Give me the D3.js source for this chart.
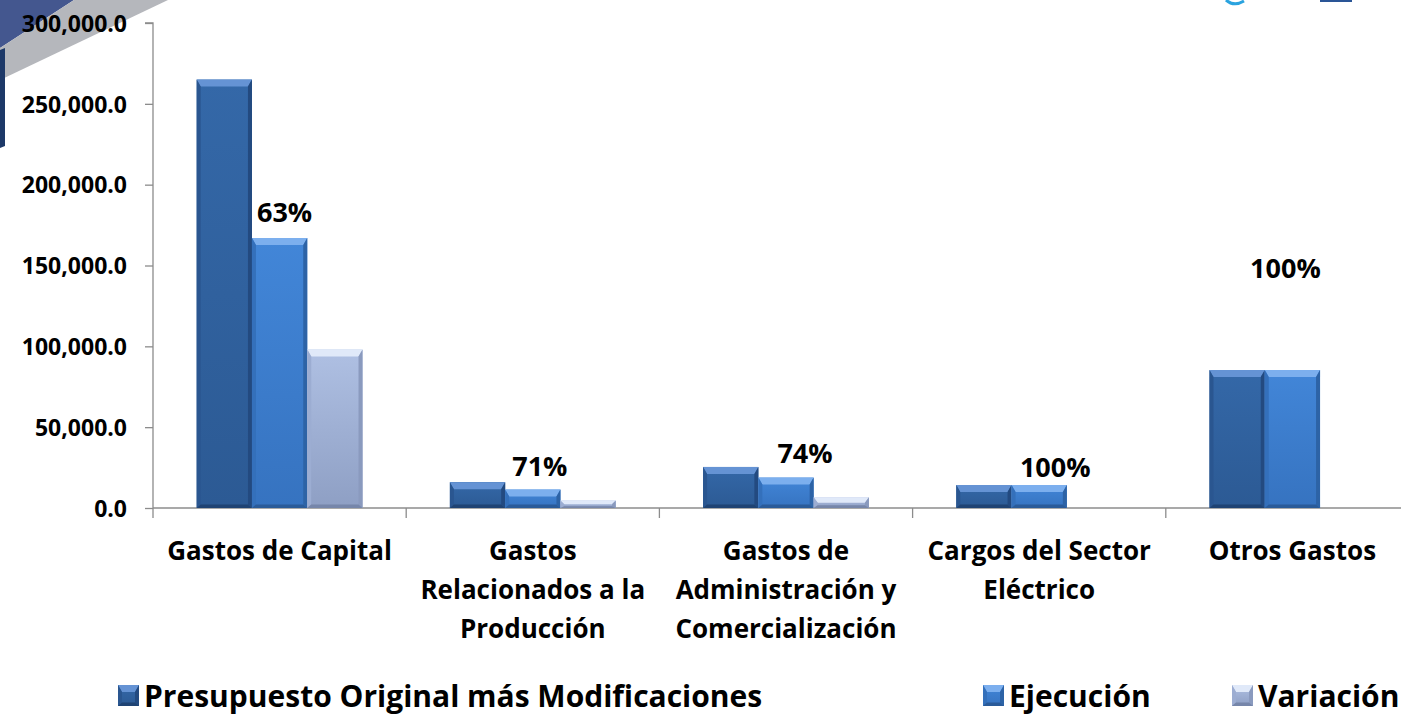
<!DOCTYPE html>
<html>
<head>
<meta charset="utf-8">
<script src="https://cdn.jsdelivr.net/npm/d3@7"></script>
<style>
  html, body { margin: 0; padding: 0; background: #fff; }
  svg { display: block; font-family: "Open Sans", "DejaVu Sans", sans-serif; font-weight: 700; }
</style>
</head>
<body>
<div id="chart"></div>
<script>
// data
const categories = [
  ["Gastos de Capital"],
  ["Gastos", "Relacionados a la", "Producción"],
  ["Gastos de", "Administración y", "Comercialización"],
  ["Cargos del Sector", "Eléctrico"],
  ["Otros Gastos"]
];
const series = ["Presupuesto Original más Modificaciones", "Ejecución", "Variación"];
const presupuesto = [265000, 16000, 25400, 14200, 85300];
const ejecucion   = [167000, 11400, 18800, 14200, 85300];
const variacion   = [98000, 4600, 6600, 0, 0];
const porcentajes = ["63%", "71%", "74%", "100%", "100%"];
const yTicks = [0, 50000, 100000, 150000, 200000, 250000, 300000];

const W = 1401, H = 724;
const plotLeft = 153, plotRight = 1419, plotTop = 23, plotBase = 508;

const svg = d3.select("#chart").append("svg")
    .attr("width", W).attr("height", H);

// decoration top-left
svg.append("polygon").attr("points", "0,0 74,0 0,48").attr("fill", "#44578f");
svg.append("polygon").attr("points", "74,0 168,0 0,80 0,48").attr("fill", "#b5b7bc");
svg.append("polygon").attr("points", "0,50 5,48 5,146 0,148").attr("fill", "#1d3968");
// logo fragments top-right
svg.append("path").attr("d", "M1226,0 Q1234,7 1244,1").attr("fill", "none").attr("stroke", "#2aa3df").attr("stroke-width", 3);
svg.append("rect").attr("x", 1320).attr("y", 0).attr("width", 32).attr("height", 2).attr("fill", "#2a5596");

const x0 = d3.scaleBand().domain(d3.range(categories.length)).range([plotLeft, plotRight]).padding(0);
const x1 = d3.scaleBand().domain(series).range([0, x0.bandwidth()]).paddingInner(0).paddingOuter(0.79);
const y = d3.scaleLinear().domain([0, 300000]).range([plotBase, plotTop]);

// axes
const yAxis = svg.append("g")
    .attr("transform", `translate(${plotLeft},0)`)
    .call(d3.axisLeft(y).tickValues(yTicks).tickFormat(d3.format(",.1f")).tickSize(8).tickPadding(18));
yAxis.select(".domain").attr("stroke", "#8c8c8c").attr("stroke-width", 1.3).attr("d", `M-8,${plotTop}H0V${plotBase}`);
yAxis.selectAll(".tick line").attr("stroke", "#8c8c8c").attr("stroke-width", 1.3);
yAxis.selectAll(".tick text").attr("font-size", 23).attr("font-family", "Open Sans").attr("font-weight", 700)
    .attr("fill", "#000").attr("dy", "0.36em");

svg.append("line").attr("x1", plotLeft).attr("x2", plotRight).attr("y1", plotBase).attr("y2", plotBase)
    .attr("stroke", "#8c8c8c").attr("stroke-width", 1.3);
svg.append("g").selectAll("line")
  .data(d3.range(categories.length + 1))
  .join("line")
    .attr("x1", i => i < categories.length ? x0(i) : plotRight)
    .attr("x2", i => i < categories.length ? x0(i) : plotRight)
    .attr("y1", plotBase).attr("y2", plotBase + 10)
    .attr("stroke", "#8c8c8c").attr("stroke-width", 1.3);

// bar styles
const styles = {
  "Presupuesto Original más Modificaciones": {face: ["#3468a8", "#2c5a94"], top: "#6593d4", side: "#2a5690", right: "#234a80", bottom: "#1f4373"},
  "Ejecución": {face: ["#4286d8", "#3673c0"], top: "#7cafee", side: "#3470bb", right: "#2d63a6", bottom: "#2a5b99"},
  "Variación": {face: ["#afc0e3", "#8e9fc4"], top: "#e0e9f9", side: "#9cadd2", right: "#8a9abe", bottom: "#7686aa"}
};

const defs = svg.append("defs");
series.forEach((s, i) => {
  const g = defs.append("linearGradient").attr("id", "g" + i).attr("x1", 0).attr("x2", 0).attr("y1", 0).attr("y2", 1);
  g.append("stop").attr("offset", "0%").attr("stop-color", styles[s].face[0]);
  g.append("stop").attr("offset", "100%").attr("stop-color", styles[s].face[1]);
});

function bevelBar(g, x, yy, w, h, s, gid) {
  if (h <= 0) return;
  const st = styles[s];
  const b = Math.min(7, w / 2, h / 2);
  const bs = Math.min(4, w / 2, h / 2);
  g.append("rect").attr("x", x).attr("y", yy).attr("width", w).attr("height", h).attr("fill", `url(#${gid})`);
  g.append("polygon").attr("fill", st.top)
    .attr("points", [[x, yy], [x + w, yy], [x + w - bs, yy + b], [x + bs, yy + b]].join(" "));
  g.append("polygon").attr("fill", st.side)
    .attr("points", [[x, yy], [x + bs, yy + b], [x + bs, yy + h - b / 2], [x, yy + h]].join(" "));
  g.append("polygon").attr("fill", st.right)
    .attr("points", [[x + w, yy], [x + w, yy + h], [x + w - bs, yy + h - b / 2], [x + w - bs, yy + b]].join(" "));
  g.append("polygon").attr("fill", st.bottom)
    .attr("points", [[x, yy + h], [x + bs, yy + h - b / 2], [x + w - bs, yy + h - b / 2], [x + w, yy + h]].join(" "));
}

const values = [presupuesto, ejecucion, variacion];
const bars = svg.append("g");
categories.forEach((c, ci) => {
  series.forEach((s, si) => {
    const v = values[si][ci];
    const bx = x0(ci) + x1(s);
    bevelBar(bars, bx, y(v), x1.bandwidth(), plotBase - y(v), s, "g" + si);
  });
});

// percent labels above the Ejecución bar
const labelNudge = [[5, -16], [7, -14], [19, -15], [16, -8], [-7, -92]];
svg.append("g").selectAll("text")
  .data(porcentajes)
  .join("text")
    .attr("x", (d, i) => x0(i) + x1("Ejecución") + x1.bandwidth() / 2 + labelNudge[i][0])
    .attr("y", (d, i) => y(ejecucion[i]) + labelNudge[i][1])
    .attr("text-anchor", "middle")
    .attr("font-size", 27)
    .attr("fill", "#000")
    .text(d => d);

// category labels
const catG = svg.append("g");
categories.forEach((lines, ci) => {
  const t = catG.append("text")
    .attr("x", x0(ci) + x0.bandwidth() / 2)
    .attr("y", 560)
    .attr("text-anchor", "middle")
    .attr("font-size", 26)
    .attr("fill", "#000");
  lines.forEach((l, li) => {
    t.append("tspan").attr("x", x0(ci) + x0.bandwidth() / 2).attr("y", 560 + li * 39).text(l);
  });
});

// legend
const legendX = [118, 983, 1232];
const leg = svg.append("g");
series.forEach((s, i) => {
  const g = leg.append("g").attr("transform", `translate(${legendX[i]},685)`);
  bevelBar(g, 0, 0, 21, 21, s, "g" + i);
  g.append("text").attr("x", 26).attr("y", 22)
    .attr("font-size", 30).attr("fill", "#000").text(s);
});
</script>
</body>
</html>
